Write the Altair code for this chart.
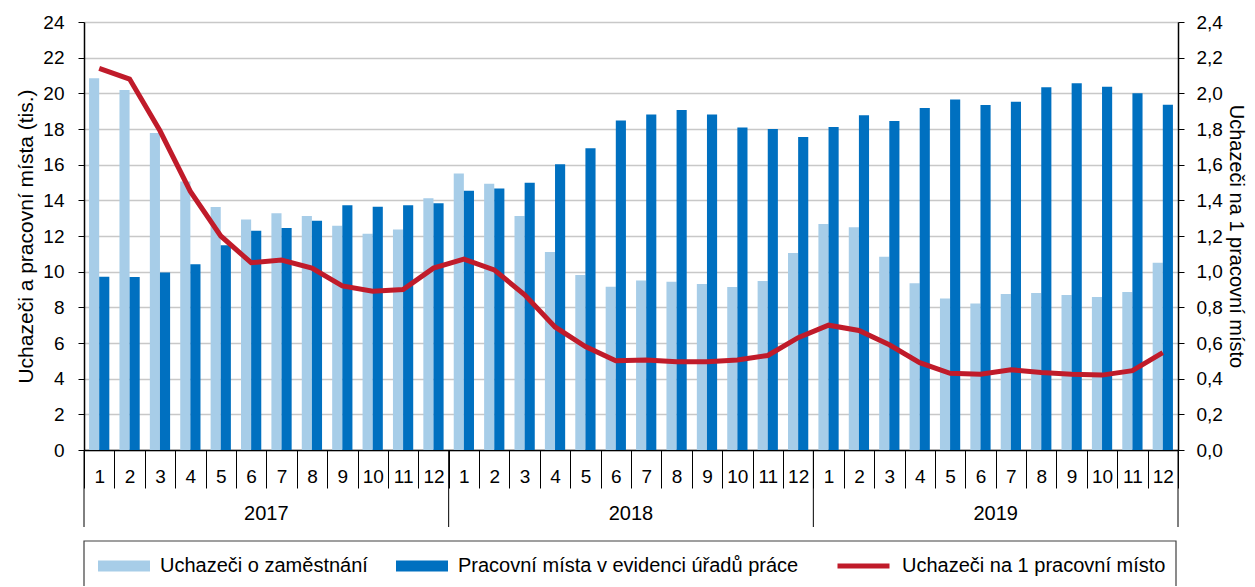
import altair as alt
import pandas as pd

FONT = "Liberation Sans"

# ---- data ----
years = ["2017", "2018", "2019"]
s_uch = "Uchazeči o zaměstnání"
s_mis = "Pracovní místa v evidenci úřadů práce"
s_rat = "Uchazeči na 1 pracovní místo"

uchazeci = [20.84, 20.19, 17.78, 15.05, 13.63, 12.93, 13.27, 13.12, 12.58, 12.13, 12.37, 14.11,
            15.50, 14.93, 13.12, 11.10, 9.81, 9.16, 9.50, 9.44, 9.31, 9.14, 9.48, 11.05,
            12.67, 12.49, 10.84, 9.35, 8.49, 8.22, 8.75, 8.80, 8.69, 8.58, 8.86, 10.50]
mista = [9.72, 9.70, 9.96, 10.41, 11.48, 12.30, 12.45, 12.86, 13.72, 13.64, 13.72, 13.83,
         14.54, 14.67, 14.99, 16.02, 16.92, 18.47, 18.82, 19.07, 18.82, 18.09, 18.00, 17.55,
         18.11, 18.77, 18.45, 19.18, 19.66, 19.35, 19.53, 20.34, 20.56, 20.37, 20.00, 19.36]
ratio = [2.14, 2.08, 1.79, 1.45, 1.20, 1.05, 1.065, 1.02, 0.92, 0.89, 0.90, 1.02,
         1.07, 1.01, 0.87, 0.69, 0.58, 0.50, 0.505, 0.495, 0.495, 0.505, 0.53, 0.63,
         0.70, 0.67, 0.59, 0.49, 0.43, 0.425, 0.45, 0.435, 0.425, 0.42, 0.445, 0.546]

n = len(uchazeci)
idx = list(range(n))

bars_df = pd.DataFrame(
    [{"idx": i, "series": s_uch, "value": v} for i, v in zip(idx, uchazeci)]
    + [{"idx": i, "series": s_mis, "value": v} for i, v in zip(idx, mista)]
)
line_df = pd.DataFrame({"idx": idx, "ratio": ratio, "series": s_rat})
year_df = pd.DataFrame({"year": years, "idx": [12 * k + 5 for k in range(len(years))]})
sep_start_df = pd.DataFrame({"idx": [12 * k for k in range(len(years))]})
sep_end_df = pd.DataFrame({"idx": [n - 1]})
box_df = pd.DataFrame({"k": [0]})

W, H = 1094, 428

x_scale = alt.Scale(domain=idx, paddingInner=0, paddingOuter=0)

bar_legend = alt.Legend(
    title=None, orient="none", legendX=14, legendY=533, direction="horizontal",
    symbolType="M-1,-0.21H1V0.21H-1Z", symbolSize=2704, symbolStrokeWidth=0,
    clipHeight=22, labelOffset=10, columnPadding=28, padding=0,
    labelFont=FONT, labelFontSize=20, labelColor="black", labelLimit=0,
)
line_legend = alt.Legend(
    title=None, orient="none", legendX=751, legendY=533, direction="horizontal",
    symbolType="stroke", symbolSize=2704, symbolStrokeWidth=5,
    clipHeight=22, labelOffset=10, padding=0,
    labelFont=FONT, labelFontSize=20, labelColor="black", labelLimit=0,
)

x_axis = alt.Axis(
    title=None,
    labelExpr="isNumber(datum.value) && isFinite(datum.value) ? (datum.value % 12) + 1 : ''",
    tickBand="extent", tickSize=38,
    tickColor="black", tickWidth=1, domainColor="black", domainWidth=1.5,
    labelAngle=0, labelBaseline="middle", labelPadding=-12, labelFont=FONT,
    labelFontSize=19, labelColor="black", grid=False,
)

bars = alt.Chart(bars_df).mark_bar().encode(
    x=alt.X("idx:O", scale=x_scale, axis=x_axis),
    xOffset=alt.XOffset("series:N", scale=alt.Scale(domain=[s_uch, s_mis], paddingInner=0, paddingOuter=0.5)),
    y=alt.Y("value:Q", scale=alt.Scale(domain=[0, 24], nice=False),
            axis=alt.Axis(orient="left", values=list(range(0, 25, 2)), grid=True,
                          gridColor="#c8c8c8", gridWidth=1.5, tickSize=6, tickColor="black",
                          domainColor="black", domainWidth=1.5, labelPadding=14,
                          labelFont=FONT, labelFontSize=19, labelColor="black",
                          title="Uchazeči a pracovní místa (tis.)", titleFont=FONT,
                          titleFontSize=21, titleFontWeight="normal", titleColor="black",
                          titlePadding=6)),
    color=alt.Color("series:N", scale=alt.Scale(domain=[s_uch, s_mis], range=["#a7cde8", "#0070c0"]),
                    legend=bar_legend),
)

line = alt.Chart(line_df).mark_line(strokeWidth=5).encode(
    x=alt.X("idx:O", scale=x_scale, axis=x_axis),
    y=alt.Y("ratio:Q", scale=alt.Scale(domain=[0, 2.4], nice=False),
            axis=alt.Axis(orient="right", values=[round(0.2 * k, 1) for k in range(13)],
                          labelExpr="replace(format(datum.value, '.1f'), '.', ',')",
                          grid=False, tickSize=6, tickColor="black", domainColor="black",
                          domainWidth=1.5, labelPadding=12, labelFont=FONT, labelFontSize=19,
                          labelColor="black", title="Uchazeči na 1 pracovní místo",
                          titleFont=FONT, titleFontSize=20, titleFontWeight="normal",
                          titleColor="black", titlePadding=3)),
    stroke=alt.Stroke("series:N", scale=alt.Scale(domain=[s_rat], range=["#c01b2a"]),
                      legend=line_legend),
)

year_text = alt.Chart(year_df).mark_text(font=FONT, fontSize=20, color="black", baseline="middle").encode(
    x=alt.X("idx:O", bandPosition=1, scale=x_scale),
    y=alt.value(H + 64),
    text="year:N",
)

sep_start = alt.Chart(sep_start_df).mark_rule(color="black", strokeWidth=1).encode(
    x=alt.X("idx:O", bandPosition=0, scale=x_scale),
    y=alt.value(H), y2=alt.value(H + 77),
)
sep_end = alt.Chart(sep_end_df).mark_rule(color="black", strokeWidth=1).encode(
    x=alt.X("idx:O", bandPosition=1, scale=x_scale),
    y=alt.value(H), y2=alt.value(H + 77),
)

legend_box = alt.Chart(box_df).mark_rect(fill=None, stroke="#404040", strokeWidth=1.2).encode(
    x=alt.value(0), x2=alt.value(W - 2), y=alt.value(519), y2=alt.value(600),
)

chart = alt.layer(bars, line, year_text, sep_start, sep_end, legend_box).resolve_scale(
    y="independent"
).properties(
    width=W, height=H,
    autosize=alt.AutoSizeParams(type="none"),
    padding={"left": 76, "top": 14, "right": 69, "bottom": 136},
).configure_view(stroke="black", strokeWidth=1.5).configure(font=FONT)

chart.save("out.html", embed_options={"renderer": "svg", "actions": False})
